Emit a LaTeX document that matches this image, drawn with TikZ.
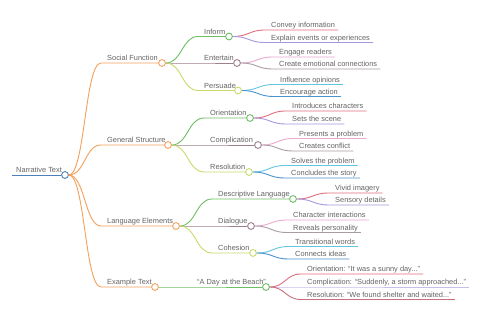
\documentclass[tikz,border=0pt]{standalone}
\usepackage{fontspec}
\setmainfont{Liberation Sans}
\usetikzlibrary{calc}
\definecolor{txtgray}{HTML}{646464}
\definecolor{rootblue}{HTML}{4D7FB8}
\definecolor{orng}{HTML}{F3A05A}
\definecolor{grn}{HTML}{6CBF63}
\definecolor{mauve}{HTML}{9E7F8E}
\definecolor{ygrn}{HTML}{C8DA6A}
\definecolor{redl}{HTML}{E06C7C}
\definecolor{purp}{HTML}{A596E0}
\definecolor{pinkl}{HTML}{EBA9CC}
\definecolor{grayl}{HTML}{A89CA4}
\definecolor{cyanl}{HTML}{62C6DE}
\definecolor{bluel}{HTML}{4B93CF}
\definecolor{lav}{HTML}{C9BDEE}
\definecolor{dred}{HTML}{C8707C}
\newcommand\mmInner[7]{%
  \coordinate (#2-s) at ({#3-6},#4);
  \node[dot,draw=#6] (#2) at (#5,#4) {};
  \node[lbl] (#2-t) at ({#3-3},{#4-2.2}) {#7};
  \draw[conn,#6] let \p1=(#1.east), \p2=(#2-s) in (\p1) .. controls ({(\x1+\x2)/2},\y1) and ({(\x1+\x2)/2},\y2) .. (\p2) -- (#2.west);
}
\newcommand\mmLeaf[6]{%
  \coordinate (#2-s) at ({#3-6},#4);
  \node[lbl] (#2-t) at ({#3-3},{#4-2.2}) {#6};
  \draw[conn,#5] let \p1=(#1.east), \p2=(#2-s) in (\p1) .. controls ({(\x1+\x2)/2},\y1) and ({(\x1+\x2)/2},\y2) .. (\p2) -- (#2-t.east |- #2-s);
}
\begin{document}
\begin{tikzpicture}[x=1pt,y=-1pt,
  lbl/.style={font=\fontsize{7.4}{8}\selectfont, text=txtgray, inner xsep=3pt, inner ysep=0pt, anchor=base west},
  dot/.style={circle, fill=white, minimum size=6.8pt, inner sep=0pt, line width=0.9pt},
  conn/.style={line width=0.9pt}]
\useasboundingbox (0,0) rectangle (480,320);
\fill[white] (0,0) rectangle (480,320);
% root
\coordinate (root-s) at (12,175);
\node[dot,draw=rootblue] (root) at (65,175) {};
\node[lbl] (root-t) at (13,172.8) {Narrative Text};
\draw[conn,rootblue] (root-s) -- (root.west);
% level 1
\mmInner{root}{SF}{107}{63}{162}{orng}{Social Function}
\mmInner{root}{GS}{107}{145}{168}{orng}{General Structure}
\mmInner{root}{LE}{107}{226}{176}{orng}{Language Elements}
\mmInner{root}{ET}{107}{287}{155}{orng}{Example Text}
% level 2
\mmInner{SF}{IN}{204}{36.5}{229}{grn}{Inform}
\mmInner{SF}{EN}{204}{63}{237}{mauve}{Entertain}
\mmInner{SF}{PE}{204}{90.5}{238}{ygrn}{Persuade}
\mmInner{GS}{OR}{210}{118}{250}{grn}{Orientation}
\mmInner{GS}{CO}{210}{145}{258}{mauve}{Complication}
\mmInner{GS}{RE}{210}{172}{249}{ygrn}{Resolution}
\mmInner{LE}{DL}{218}{199}{293}{grn}{Descriptive Language}
\mmInner{LE}{DI}{218}{226}{251}{mauve}{Dialogue}
\mmInner{LE}{CH}{218}{253}{253}{ygrn}{Cohesion}
\mmInner{ET}{BE}{197}{287}{266}{grn}{“A Day at the Beach”}
% leaves
\mmLeaf{IN}{l1}{271}{30}{redl}{Convey information}
\mmLeaf{IN}{l2}{271}{42.5}{purp}{Explain events or experiences}
\mmLeaf{EN}{l3}{279}{57}{pinkl}{Engage readers}
\mmLeaf{EN}{l4}{279}{69}{grayl}{Create emotional connections}
\mmLeaf{PE}{l5}{280}{84.5}{cyanl}{Influence opinions}
\mmLeaf{PE}{l6}{280}{96.5}{bluel}{Encourage action}
\mmLeaf{OR}{l7}{292}{111}{redl}{Introduces characters}
\mmLeaf{OR}{l8}{292}{124}{purp}{Sets the scene}
\mmLeaf{CO}{l9}{299}{138.5}{pinkl}{Presents a problem}
\mmLeaf{CO}{l10}{299}{151}{grayl}{Creates conflict}
\mmLeaf{RE}{l11}{291}{165.5}{cyanl}{Solves the problem}
\mmLeaf{RE}{l12}{291}{178}{bluel}{Concludes the story}
\mmLeaf{DL}{l13}{335}{193}{redl}{Vivid imagery}
\mmLeaf{DL}{l14}{335}{205}{purp}{Sensory details}
\mmLeaf{DI}{l15}{293}{220}{pinkl}{Character interactions}
\mmLeaf{DI}{l16}{293}{232.5}{grayl}{Reveals personality}
\mmLeaf{CH}{l17}{295}{246.5}{cyanl}{Transitional words}
\mmLeaf{CH}{l18}{295}{259}{bluel}{Connects ideas}
\mmLeaf{BE}{l19}{307}{274}{redl}{Orientation: “It was a sunny day...”}
\mmLeaf{BE}{l20}{307}{287}{lav}{Complication: “Suddenly, a storm approached...”}
\mmLeaf{BE}{l21}{307}{299.5}{dred}{Resolution: “We found shelter and waited...”}
\end{tikzpicture}
\end{document}
